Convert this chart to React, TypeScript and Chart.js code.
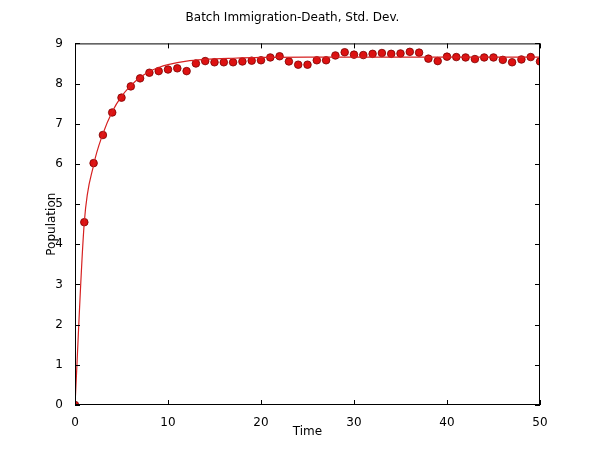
import Chart from 'chart.js/auto'
import React, { useEffect, useRef } from 'react'

const times: number[] = Array.from({ length: 51 }, (_, i) => i)
const stdDev: number[] = [
  0, 4.55, 6.02, 6.72, 7.28, 7.65, 7.93, 8.13, 8.27, 8.31, 8.35, 8.38, 8.31, 8.5, 8.56, 8.53, 8.53,
  8.53, 8.55, 8.57, 8.58, 8.65, 8.68, 8.55, 8.47, 8.47, 8.58, 8.58, 8.7, 8.78, 8.72, 8.71, 8.74,
  8.76, 8.74, 8.75, 8.79, 8.77, 8.62, 8.56, 8.67, 8.66, 8.65, 8.61, 8.65, 8.65, 8.59, 8.53, 8.6,
  8.66, 8.55
]
const curveT: number[] = [0, 1, 2, 3, 4, 5, 6, 7, 8, 9, 10, 12, 14, 17, 20, 25, 30, 40, 50]
const curveV: number[] = [0, 4.55, 5.97, 6.75, 7.3, 7.68, 7.95, 8.15, 8.3, 8.4, 8.47, 8.56, 8.6, 8.63, 8.65, 8.66, 8.66, 8.66, 8.66]

const FONT = 'DejaVu Sans'

const inwardTicks = {
  id: 'inwardTicks',
  afterDraw(chart: Chart) {
    const { ctx, chartArea: a, scales } = chart
    const x = scales.x
    const y = scales.y
    ctx.save()
    ctx.strokeStyle = '#000'
    ctx.lineWidth = 1
    ctx.strokeRect(a.left + 0.5, a.top + 0.5, a.right - a.left - 1, a.bottom - a.top - 1)
    ctx.beginPath()
    x.ticks.forEach((t) => {
      const px = Math.round(x.getPixelForValue(t.value)) + 0.5
      ctx.moveTo(px, a.bottom); ctx.lineTo(px, a.bottom - 5)
      ctx.moveTo(px, a.top); ctx.lineTo(px, a.top + 5)
    })
    y.ticks.forEach((t) => {
      const py = Math.round(y.getPixelForValue(t.value)) + 0.5
      ctx.moveTo(a.left, py); ctx.lineTo(a.left + 5, py)
      ctx.moveTo(a.right, py); ctx.lineTo(a.right - 5, py)
    })
    ctx.stroke()
    ctx.restore()
  }
}

const App: React.FC = () => {
  const canvasRef = useRef<HTMLCanvasElement | null>(null)
  const chartRef = useRef<Chart | null>(null)

  useEffect(() => {
    document.body.style.margin = '0'
    if (!canvasRef.current) return
    chartRef.current?.destroy()
    chartRef.current = new Chart(canvasRef.current, {
      type: 'scatter',
      data: {
        datasets: [
          {
            label: 'Theory',
            data: curveT.map((t, i) => ({ x: t, y: curveV[i] })),
            showLine: true,
            borderColor: '#d62020',
            borderWidth: 1.2,
            pointRadius: 0,
            cubicInterpolationMode: 'monotone'
          },
          {
            label: 'Std. Dev.',
            data: times.map((t, i) => ({ x: t, y: stdDev[i] })),
            showLine: false,
            pointRadius: 3.8,
            backgroundColor: '#dd1111',
            borderColor: '#7a0000',
            borderWidth: 0.8
          }
        ]
      },
      options: {
        animation: false,
        responsive: false,
        layout: { padding: { left: 45, right: 60, top: 3, bottom: 12 } },
        plugins: {
          legend: { display: false },
          tooltip: { enabled: false },
          title: {
            display: true,
            text: 'Batch Immigration-Death, Std. Dev.',
            color: '#000',
            font: { family: FONT, size: 12, weight: 'normal' },
            padding: { top: 8, bottom: 18 }
          }
        },
        scales: {
          x: {
            type: 'linear',
            min: 0,
            max: 50,
            ticks: { stepSize: 10, color: '#000', font: { family: FONT, size: 12 }, padding: 3 },
            grid: { display: false },
            border: { display: false },
            title: { display: true, text: 'Time', color: '#000', font: { family: FONT, size: 12 }, padding: 0 },
            afterFit: (s: any) => { s.height = 34 }
          },
          y: {
            min: 0,
            max: 9,
            ticks: { stepSize: 1, color: '#000', font: { family: FONT, size: 12 }, padding: 4 },
            grid: { display: false },
            border: { display: false },
            title: { display: true, text: 'Population', color: '#000', font: { family: FONT, size: 12 }, padding: 0 },
            afterFit: (s: any) => { s.width = 30 }
          }
        }
      },
      plugins: [inwardTicks]
    })
    return () => {
      chartRef.current?.destroy()
      chartRef.current = null
    }
  }, [])

  return <canvas ref={canvasRef} width={600} height={451} style={{ display: 'block' }} />
}

export default App
